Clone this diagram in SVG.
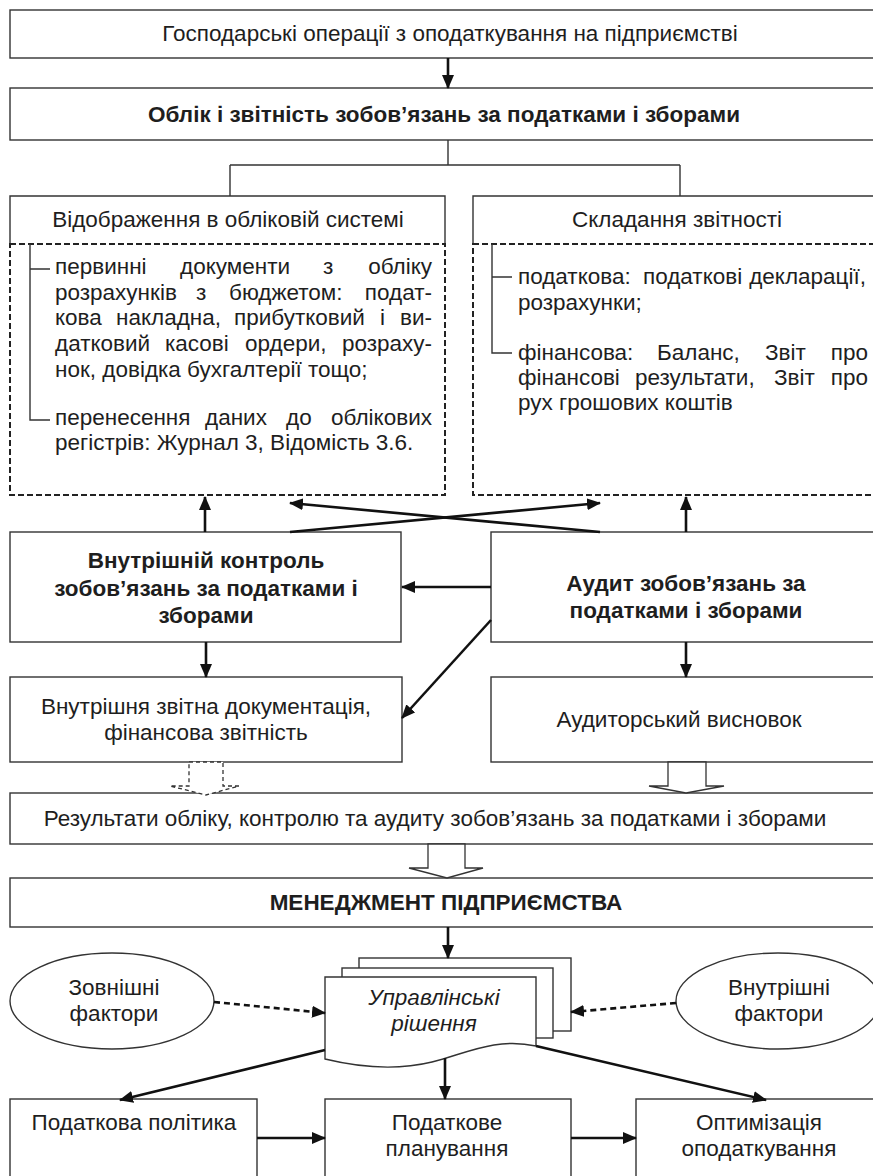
<svg xmlns="http://www.w3.org/2000/svg" width="873" height="1176" viewBox="0 0 873 1176">
<style>
.box{fill:#fff;stroke:#333;stroke-width:1.4}
.dbox{fill:none;stroke:#222;stroke-width:2;stroke-dasharray:6 3}
.t{font-family:"Liberation Sans",Arial,sans-serif;font-size:22.5px;fill:#1e1e1e}
.c{text-anchor:middle}
.e{text-anchor:end}
.b{font-weight:bold}
.i{font-style:italic}
.ar{fill:none;stroke:#111;stroke-width:2.6}
.thin{fill:none;stroke:#333;stroke-width:1.4}
.dash{fill:none;stroke:#111;stroke-width:2.6;stroke-dasharray:6 4}
.hol{fill:#fff;stroke:#333;stroke-width:1.3}
.hold{fill:#fff;stroke:#333;stroke-width:1.3;stroke-dasharray:4 3}
</style>
<defs>
<marker id="ah" markerUnits="userSpaceOnUse" markerWidth="14" markerHeight="12" refX="13" refY="6" orient="auto">
<path d="M0,0 L14,6 L0,12 z" fill="#111"/>
</marker>
</defs>
<rect width="873" height="1176" fill="#fff"/>

<g id="n-ops">
<rect class="box" x="10" y="10" width="880" height="48"/>
<text class="t c" x="450" y="41">Господарські операції з оподаткування на підприємстві</text>
</g>
<g id="n-oblik">
<rect class="box" x="10" y="88" width="880" height="52"/>
<text class="t c b" x="444" y="122">Облік і звітність зобов’язань за податками і зборами</text>
</g>
<g id="n-vidobr">
<path class="box" d="M10,244 V196 H445 V244"/>
<rect class="dbox" x="10" y="244" width="435" height="251"/>
<text class="t c" x="228" y="227">Відображення в обліковій системі</text>
<path class="thin" d="M30,244 V420 H50 M30,269 H50"/>
<text class="t" y="274"><tspan x="55">первинні</tspan><tspan x="180">документи</tspan><tspan x="323">з</tspan><tspan x="432" text-anchor="end">обліку</tspan></text>
<text class="t" y="300"><tspan x="55">розрахунків</tspan><tspan x="196">з</tspan><tspan x="229">бюджетом:</tspan><tspan x="432" text-anchor="end">подат-</tspan></text>
<text class="t" y="325"><tspan x="55">кова</tspan><tspan x="116">накладна,</tspan><tspan x="234">прибутковий</tspan><tspan x="380">і</tspan><tspan x="432" text-anchor="end">ви-</tspan></text>
<text class="t" y="351"><tspan x="55">датковий</tspan><tspan x="165">касові</tspan><tspan x="245">ордери,</tspan><tspan x="432" text-anchor="end">розраху-</tspan></text>
<text class="t" x="55" y="377">нок, довідка бухгалтерії тощо;</text>
<text class="t" y="425"><tspan x="55">перенесення</tspan><tspan x="205">даних</tspan><tspan x="286">до</tspan><tspan x="432" text-anchor="end">облікових</tspan></text>
<text class="t" x="55" y="450">регістрів: Журнал 3, Відомість 3.6.</text>
</g>
<g id="n-zvit">
<path class="box" d="M473,244 V196 H890"/>
<rect class="dbox" x="473" y="244" width="420" height="251"/>
<text class="t c" x="677" y="227">Складання звітності</text>
<path class="thin" d="M492,244 V353 H512 M492,277 H512"/>
<text class="t" y="284"><tspan x="518">податкова:</tspan><tspan x="643">податкові</tspan><tspan x="866" text-anchor="end">декларації,</tspan></text>
<text class="t" x="518" y="310">розрахунки;</text>
<text class="t" y="360"><tspan x="518">фінансова:</tspan><tspan x="657">Баланс,</tspan><tspan x="765">Звіт</tspan><tspan x="868" text-anchor="end">про</tspan></text>
<text class="t" y="385"><tspan x="518">фінансові</tspan><tspan x="635">результати,</tspan><tspan x="774">Звіт</tspan><tspan x="868" text-anchor="end">про</tspan></text>
<text class="t" x="518" y="410">рух грошових коштів</text>
</g>
<g id="n-control">
<rect class="box" x="10" y="532" width="391" height="110"/>
<text class="t c b" x="206" y="568">Внутрішній контроль</text>
<text class="t c b" x="206" y="596">зобов’язань за податками і</text>
<text class="t c b" x="206" y="623">зборами</text>
</g>
<g id="n-audit">
<rect class="box" x="491" y="532" width="400" height="110"/>
<text class="t c b" x="686" y="591">Аудит зобов’язань за</text>
<text class="t c b" x="686" y="618">податками і зборами</text>
</g>
<g id="n-vnutdoc">
<rect class="box" x="10" y="677" width="392" height="85"/>
<text class="t c" x="206" y="714">Внутрішня звітна документація,</text>
<text class="t c" x="206" y="740">фінансова звітність</text>
</g>
<g id="n-audvysn">
<rect class="box" x="491" y="677" width="400" height="85"/>
<text class="t c" x="679" y="727">Аудиторський висновок</text>
</g>
<g id="n-results">
<rect class="box" x="10" y="793" width="880" height="51"/>
<text class="t c" x="435" y="826">Результати обліку, контролю та аудиту зобов’язань за податками і зборами</text>
</g>
<g id="n-mgmt">
<rect class="box" x="10" y="878" width="880" height="49"/>
<text class="t c b" x="446" y="910">МЕНЕДЖМЕНТ ПІДПРИЄМСТВА</text>
</g>
<g id="n-decisions">
<rect class="box" x="359" y="958" width="212" height="73"/>
<rect class="box" x="342" y="968" width="211" height="70"/>
<path class="box" d="M325,977 H536 V1046 C495,1037 465,1054 432,1062 C395,1071 358,1067 325,1059 Z"/>
<text class="t c i" x="434" y="1005">Управлінські</text>
<text class="t c i" x="434" y="1031">рішення</text>
</g>
<g id="n-ext">
<ellipse class="box" cx="112" cy="1001" rx="102" ry="48"/>
<text class="t c" x="114" y="995">Зовнішні</text>
<text class="t c" x="114" y="1021">фактори</text>
</g>
<g id="n-int">
<ellipse class="box" cx="778" cy="1001" rx="102" ry="48"/>
<text class="t c" x="779" y="995">Внутрішні</text>
<text class="t c" x="779" y="1021">фактори</text>
</g>
<g id="n-policy">
<rect class="box" x="10" y="1099" width="247" height="90"/>
<text class="t c" x="134" y="1130">Податкова політика</text>
</g>
<g id="n-plan">
<rect class="box" x="325" y="1099" width="246" height="90"/>
<text class="t c" x="447" y="1130">Податкове</text>
<text class="t c" x="447" y="1156">планування</text>
</g>
<g id="n-optim">
<rect class="box" x="636" y="1099" width="260" height="90"/>
<text class="t c" x="759" y="1130">Оптимізація</text>
<text class="t c" x="759" y="1156">оподаткування</text>
</g>

<g id="connectors">
<path class="ar" marker-end="url(#ah)" d="M448,58 V88"/>
<path class="thin" d="M448,140 V165 M230,165 H680 M230,165 V196 M680,165 V196"/>
<path class="ar" marker-end="url(#ah)" d="M205,532 V497"/>
<path class="ar" marker-end="url(#ah)" d="M686,532 V497"/>
<path class="ar" marker-end="url(#ah)" d="M290,532 L600,503"/>
<path class="ar" marker-end="url(#ah)" d="M600,532 L290,503"/>
<path class="ar" marker-end="url(#ah)" d="M491,587 H402"/>
<path class="ar" stroke-width="2" marker-end="url(#ah)" d="M491,620 L402,718"/>
<path class="ar" marker-end="url(#ah)" d="M206,642 V677"/>
<path class="ar" marker-end="url(#ah)" d="M686,642 V677"/>
<polygon class="hold" points="189,762 223,762 223,786 239,786 206,795 170,786 189,786"/>
<polygon class="hol" points="668,762 706,762 706,786 724,786 686,793 649,786 668,786"/>
<polygon class="hol" points="428,844 465,844 465,868 483,868 447,878 409,868 428,868"/>
<path class="ar" marker-end="url(#ah)" d="M448,927 V958"/>
<path class="dash" marker-end="url(#ah)" d="M214,1002 L325,1013"/>
<path class="dash" marker-end="url(#ah)" d="M676,1003 L571,1012"/>
<path class="ar" stroke-width="3" marker-end="url(#ah)" d="M325,1050 L120,1100"/>
<path class="ar" marker-end="url(#ah)" d="M445,1058 V1099"/>
<path class="ar" stroke-width="3" marker-end="url(#ah)" d="M536,1046 L766,1100"/>
<path class="ar" stroke-width="3" marker-end="url(#ah)" d="M257,1138 H325"/>
<path class="ar" stroke-width="3" marker-end="url(#ah)" d="M571,1138 H636"/>
</g>
</svg>
